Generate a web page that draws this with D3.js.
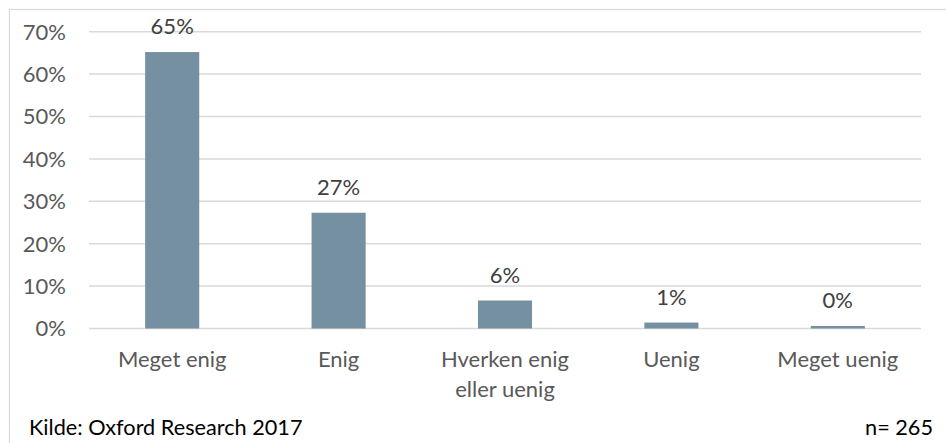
<!DOCTYPE html>
<html><head><meta charset="utf-8">
<script src="https://cdn.jsdelivr.net/npm/d3@7"></script>
<style>html,body{margin:0;padding:0;background:#fff;overflow:hidden}</style>
</head><body>
<svg id="c" width="946" height="443"></svg>
<script>
const categories = [["Meget enig"], ["Enig"], ["Hverken enig", "eller uenig"], ["Uenig"], ["Meget uenig"]];
const values = [65.2, 27.3, 6.6, 1.4, 0.6];
const valueLabels = ["65%", "27%", "6%", "1%", "0%"];
const yTicks = [0, 10, 20, 30, 40, 50, 60, 70];
const source = "Kilde: Oxford Research 2017";
const nLabel = "n= 265";

const FONT = "Lato, 'Open Sans', sans-serif";
const FS = 22;
const svg = d3.select("#c");
svg.append("rect").attr("x", 9.5).attr("y", 9.5).attr("width", 960).attr("height", 460)
  .attr("fill", "#fff").attr("stroke", "#d9d9d9").attr("stroke-width", 1.2);

const pL = 89, pR = 921, pT = 31.7, pB = 328.5;
const x = d3.scaleBand().domain(d3.range(categories.length)).range([pL, pR]).paddingInner(0.675).paddingOuter(0.3375);
const y = d3.scaleLinear().domain([0, 70]).range([pB, pT]);

const grid = svg.append("g");
grid.selectAll("line").data(yTicks).join("line")
  .attr("x1", pL).attr("x2", pR)
  .attr("y1", d => y(d)).attr("y2", d => y(d))
  .attr("stroke", "#d9d9d9").attr("stroke-width", 1.5);

const yAxis = d3.axisLeft(y).tickValues(yTicks).tickFormat(d => d + "%").tickSize(0).tickPadding(0);
const ya = svg.append("g").attr("transform", "translate(66,0)").call(yAxis);
ya.select(".domain").remove();
ya.selectAll("text").attr("font-family", FONT).attr("font-size", FS).attr("fill", "#595959").attr("dy", "0.34em");

svg.append("g").selectAll("rect").data(values).join("rect")
  .attr("x", (d, i) => x(i)).attr("width", x.bandwidth())
  .attr("y", d => y(d)).attr("height", d => y(0) - y(d))
  .attr("fill", "#7490a1");

svg.append("g").selectAll("text").data(values).join("text")
  .attr("x", (d, i) => x(i) + x.bandwidth() / 2).attr("y", d => y(d) - 18)
  .attr("text-anchor", "middle").attr("font-family", FONT).attr("font-size", FS).attr("fill", "#404040")
  .text((d, i) => valueLabels[i]);

const cat = svg.append("g").selectAll("text").data(categories).join("text")
  .attr("x", (d, i) => x(i) + x.bandwidth() / 2).attr("y", pB + 38)
  .attr("text-anchor", "middle").attr("font-family", FONT).attr("font-size", FS).attr("fill", "#595959");
cat.selectAll("tspan").data(d => d).join("tspan")
  .attr("x", function() { return this.parentNode.getAttribute("x"); })
  .attr("dy", (d, j) => j === 0 ? 0 : 30).text(d => d);

svg.append("text").attr("x", 29).attr("y", 435).attr("font-family", FONT).attr("font-size", 21.7).attr("fill", "#000").text(source);
svg.append("text").attr("x", 933).attr("y", 435).attr("text-anchor", "end").attr("font-family", FONT).attr("font-size", 21.7).attr("fill", "#000").text(nLabel);
</script>
</body></html>
